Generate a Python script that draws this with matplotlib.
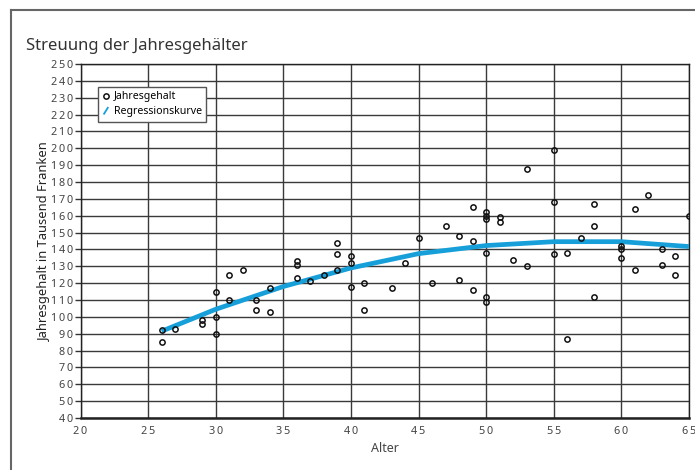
import matplotlib
matplotlib.use("Agg")
import matplotlib.pyplot as plt
from matplotlib.lines import Line2D
from matplotlib.legend_handler import HandlerBase
from matplotlib.ticker import MultipleLocator, FuncFormatter

# Alter und Jahresgehalt (Tausend Franken)
alter = [26, 26, 27, 29, 29, 30, 30, 30, 31, 31, 32, 33, 33, 34, 34,
         36, 36, 36, 37, 38, 39, 39, 39, 40, 40, 40, 41, 41, 43, 44,
         45, 46, 47, 48, 48, 49, 49, 49, 50, 50, 50, 50, 50, 50,
         51, 51, 52, 53, 53, 55, 55, 55, 56, 56, 57, 58, 58, 58,
         60, 60, 60, 61, 61, 62, 63, 63, 64, 64, 65]
gehalt = [92, 85, 93, 98, 96, 115, 100, 90, 125, 110, 128, 110, 104, 117, 103,
          133, 131, 123, 121, 125, 144, 137, 128, 136, 132, 118, 120, 104, 117, 132,
          147, 120, 154, 148, 122, 165, 145, 116, 162, 160, 158, 138, 112, 109,
          159, 156, 134, 188, 130, 199, 168, 137, 138, 87, 147, 167, 154, 112,
          142, 140, 135, 164, 128, 172, 140, 131, 136, 125, 160]

# Regressionskurve
kurve_alter = [26, 30, 35, 40, 45, 50, 55, 60, 65]
kurve_gehalt = [91.5, 104.5, 118, 129, 137.5, 142.3, 144.6, 144.6, 141.7]

blau = "#169fd9"
plt.rcParams["font.family"] = ["Noto Sans", "DejaVu Sans"]

fig = plt.figure(figsize=(6.95, 4.70), dpi=100)
ax = fig.add_axes([80.5 / 695, 1 - 418 / 470, 608.5 / 695, 354 / 470])

ax.plot(kurve_alter, kurve_gehalt, color=blau, lw=3.4, solid_capstyle="butt", zorder=3)
ax.plot(alter, gehalt, ls="none", marker="o", ms=3.8, mfc="none", mec="#111111",
        mew=1.1, zorder=4)

ax.set_xlim(20, 65)
ax.set_ylim(40, 250)
ax.xaxis.set_major_locator(MultipleLocator(5))
ax.yaxis.set_major_locator(MultipleLocator(10))

spaced = FuncFormatter(lambda v, p: "\u2009".join(str(int(round(v)))))
ax.xaxis.set_major_formatter(spaced)
ax.yaxis.set_major_formatter(spaced)

ax.grid(True, color="#3a3a3a", lw=1.0)
ax.set_axisbelow(True)
for s in ax.spines.values():
    s.set_color("#222222")
    s.set_linewidth(1.0)
ax.spines["bottom"].set_linewidth(1.8)

ax.tick_params(axis="y", length=4, width=1, color="#333333", labelsize=7.8,
               labelcolor="#444444", pad=1.5)
ax.tick_params(axis="x", length=0, labelsize=7.8, labelcolor="#444444", pad=6)

ax.set_xlabel("Alter", fontsize=9, color="#444444", labelpad=3)
ax.set_ylabel("Jahresgehalt in Tausend Franken", fontsize=9.3, color="#222222",
              labelpad=0)


class DiagonalHandler(HandlerBase):
    def create_artists(self, legend, orig_handle, xdescent, ydescent,
                       width, height, fontsize, trans):
        x0 = -xdescent + width * 0.25
        x1 = -xdescent + width * 0.75
        line = Line2D([x0, x1], [-ydescent + height * 0.1, -ydescent + height * 0.9],
                      color=blau, lw=1.3, transform=trans)
        return [line]


punkt = Line2D([], [], ls="none", marker="o", ms=3.8, mfc="none", mec="#111111", mew=1.1)
kurve = Line2D([], [], color=blau)
leg = ax.legend([punkt, kurve], ["Jahresgehalt", "Regressionskurve"],
                handler_map={kurve: DiagonalHandler()},
                loc="upper left", bbox_to_anchor=(0.0288, 0.935),
                fontsize=7.6, handlelength=0.7, handletextpad=0.4,
                borderpad=0.4, labelspacing=0.4, borderaxespad=0,
                fancybox=False, framealpha=1, edgecolor="#555555")
leg.get_frame().set_linewidth(1.0)

fig.text(26 / 695, 1 - 46 / 470, "Streuung der Jahresgehälter", fontsize=12,
         color="#333333", va="center", ha="left")

# Rahmen oben und links
fig.add_artist(Line2D([11 / 695, 1.0], [1 - 10 / 470, 1 - 10 / 470],
                      color="#666666", lw=1.5, transform=fig.transFigure))
fig.add_artist(Line2D([11 / 695, 11 / 695], [0.0, 1 - 10 / 470],
                      color="#666666", lw=1.5, transform=fig.transFigure))

fig.savefig("out.png", dpi=100)
